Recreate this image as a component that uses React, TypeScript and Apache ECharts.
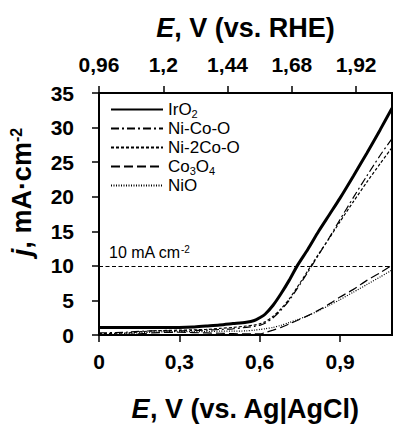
import { useEffect, useRef } from "react";
import * as echarts from "echarts";

// Potential vs. Ag|AgCl (V)
const potential = [0, 0.1, 0.2, 0.3, 0.35, 0.4, 0.45, 0.5, 0.55, 0.58, 0.6, 0.62, 0.65, 0.68, 0.71, 0.74, 0.78, 0.82, 0.86, 0.9, 0.95, 1.0, 1.05, 1.094];

// Current density (mA·cm-2)
const iro2 = [1.1, 1.1, 1.1, 1.1, 1.15, 1.3, 1.45, 1.65, 1.85, 2.1, 2.5, 3.0, 4.3, 6.0, 7.9, 10.0, 12.4, 15.0, 17.4, 19.8, 23.0, 26.3, 29.7, 32.8];
const niCoO = [0.3, 0.4, 0.6, 0.6, 0.65, 0.7, 0.8, 0.9, 1.1, 1.25, 1.4, 1.7, 2.5, 3.6, 5.0, 6.7, 9.1, 11.6, 14.1, 16.7, 19.9, 23.0, 26.0, 28.4];
const ni2CoO = [0.2, 0.3, 0.6, 0.7, 0.75, 0.8, 0.95, 1.1, 1.3, 1.45, 1.6, 1.9, 2.7, 3.8, 5.2, 6.9, 9.3, 11.7, 14.0, 16.4, 19.3, 22.1, 24.8, 27.1];
const co3o4 = [0, 0.05, 0.3, 0.4, 0.35, 0.3, 0.25, 0.2, 0.15, 0.15, 0.15, 0.35, 0.7, 1.1, 1.6, 2.1, 2.8, 3.6, 4.5, 5.5, 6.6, 7.9, 9.0, 10.1];
const nio = [0, 0.2, 0.4, 0.5, 0.5, 0.5, 0.55, 0.55, 0.6, 0.7, 0.8, 0.9, 1.1, 1.4, 1.8, 2.2, 2.8, 3.5, 4.3, 5.1, 6.2, 7.3, 8.4, 9.4];

// Axis ticks
const agAgClTicks = [0, 0.3, 0.6, 0.9];
const rheTicks = [0.96, 1.2, 1.44, 1.68, 1.92];
const currentTicks = [0, 5, 10, 15, 20, 25, 30, 35];

const RHE_OFFSET = 0.96;
const X_MAX = 1.094;
const REFERENCE_CURRENT = 10;

const FONT = "Arial, 'Liberation Sans', sans-serif";

const fmt = (v: number) => String(Math.round(v * 100) / 100).replace(".", ",");

const seriesDefs = [
  { name: "IrO2", label: "IrO{sub|2}", data: iro2, width: 3, dash: "solid" as any },
  { name: "Ni-Co-O", label: "Ni-Co-O", data: niCoO, width: 1.2, dash: [8, 3, 2, 3] },
  { name: "Ni-2Co-O", label: "Ni-2Co-O", data: ni2CoO, width: 1.2, dash: [3, 2] },
  { name: "Co3O4", label: "Co{sub|3}O{sub|4}", data: co3o4, width: 1.2, dash: [9, 4] },
  { name: "NiO", label: "NiO", data: nio, width: 1.2, dash: [1, 1.5] },
];

export default function App() {
  const ref = useRef<HTMLDivElement>(null);

  useEffect(() => {
    const chart = echarts.init(ref.current!, null, { renderer: "svg" });

    const axisLine = { show: true, lineStyle: { color: "#000", width: 2 } };
    const axisTick = { show: true, length: 7, lineStyle: { color: "#000", width: 1.5 } };
    const tickLabel = { color: "#000", fontFamily: FONT, fontWeight: "bold", fontSize: 21 };
    const titleStyle = {
      color: "#000",
      fontFamily: FONT,
      fontWeight: "bold",
      fontSize: 27,
      rich: {
        i: { fontFamily: FONT, fontWeight: "bold", fontStyle: "italic", fontSize: 27, color: "#000" },
        sup: { fontFamily: FONT, fontWeight: "bold", fontSize: 16, color: "#000", verticalAlign: "top", lineHeight: 15 },
      },
    };

    const labelMap: Record<string, string> = {};
    seriesDefs.forEach((s) => (labelMap[s.name] = s.label));

    const series: any[] = seriesDefs
      .slice()
      .reverse()
      .map((s) => ({
        name: s.name,
        type: "line",
        xAxisIndex: 0,
        yAxisIndex: 0,
        symbol: "none",
        smooth: 0.25,
        data: potential.map((x, i) => [x, s.data[i]]),
        lineStyle: { color: "#000", width: s.width, type: s.dash },
        itemStyle: { color: "#000" },
        z: s.name === "IrO2" ? 5 : 3,
      }));

    // 10 mA cm-2 reference level
    series.push({
      name: "ref",
      type: "line",
      xAxisIndex: 0,
      yAxisIndex: 0,
      data: [],
      symbol: "none",
      markLine: {
        silent: true,
        symbol: "none",
        lineStyle: { color: "#000", width: 1.2, type: [4, 2.5] },
        label: {
          show: true,
          position: "insideStartTop",
          distance: [10, 5],
          formatter: `${REFERENCE_CURRENT} mA cm{sup|-2}`,
          color: "#000",
          fontFamily: FONT,
          fontSize: 16,
          rich: {
            sup: { fontFamily: FONT, fontSize: 10, color: "#000", verticalAlign: "top", lineHeight: 10 },
          },
        },
        data: [{ yAxis: REFERENCE_CURRENT }],
      },
    });

    chart.setOption({
      animation: false,
      backgroundColor: "#fff",
      grid: {
        left: 97,
        right: 1,
        top: 93,
        bottom: 90,
        show: true,
        borderColor: "#000",
        borderWidth: 2,
        backgroundColor: "transparent",
      },
      legend: {
        orient: "vertical",
        left: 110,
        top: 100,
        padding: 0,
        itemGap: 0,
        itemWidth: 52,
        itemHeight: 14,
        itemStyle: { opacity: 0, borderWidth: 0 },
        data: seriesDefs.map((s) => s.name),
        formatter: (name: string) => labelMap[name] ?? name,
        textStyle: {
          color: "#000",
          fontFamily: FONT,
          fontSize: 17,
          lineHeight: 19,
          rich: {
            sub: { fontFamily: FONT, fontSize: 11, color: "#000", verticalAlign: "bottom", lineHeight: 11 },
          },
        },
      },
      xAxis: [
        {
          type: "value",
          position: "bottom",
          min: 0,
          max: X_MAX,
          interval: 0.3,
          axisLine,
          axisTick: { ...axisTick, customValues: agAgClTicks },
          splitLine: { show: false },
          axisLabel: { ...tickLabel, margin: 16, customValues: agAgClTicks, formatter: fmt },
          name: "{i|E}, V (vs. Ag|AgCl)",
          nameLocation: "middle",
          nameGap: 60,
          nameTextStyle: titleStyle,
        },
        {
          type: "value",
          position: "top",
          min: RHE_OFFSET,
          max: RHE_OFFSET + X_MAX,
          interval: 0.24,
          axisLine,
          axisTick: { ...axisTick, customValues: rheTicks },
          splitLine: { show: false },
          axisLabel: { ...tickLabel, margin: 18, customValues: rheTicks, formatter: fmt },
          name: "{i|E}, V (vs. RHE)",
          nameLocation: "middle",
          nameGap: 52,
          nameTextStyle: titleStyle,
        },
      ],
      yAxis: [
        {
          type: "value",
          position: "left",
          min: 0,
          max: 35,
          interval: 5,
          axisLine,
          axisTick: { ...axisTick, customValues: currentTicks },
          splitLine: { show: false },
          axisLabel: { ...tickLabel, margin: 25, customValues: currentTicks, formatter: fmt },
          name: "{i|j}, mA·cm{sup|-2}",
          nameLocation: "middle",
          nameRotate: 90,
          nameGap: 64,
          nameTextStyle: { ...titleStyle, padding: [0, 0, 0, 44] },
        },
      ],
      series,
    });

    return () => chart.dispose();
  }, []);

  return (
    <div
      ref={ref}
      style={{ position: "absolute", left: 0, top: 0, width: 393, height: 427 }}
    />
  );
}
